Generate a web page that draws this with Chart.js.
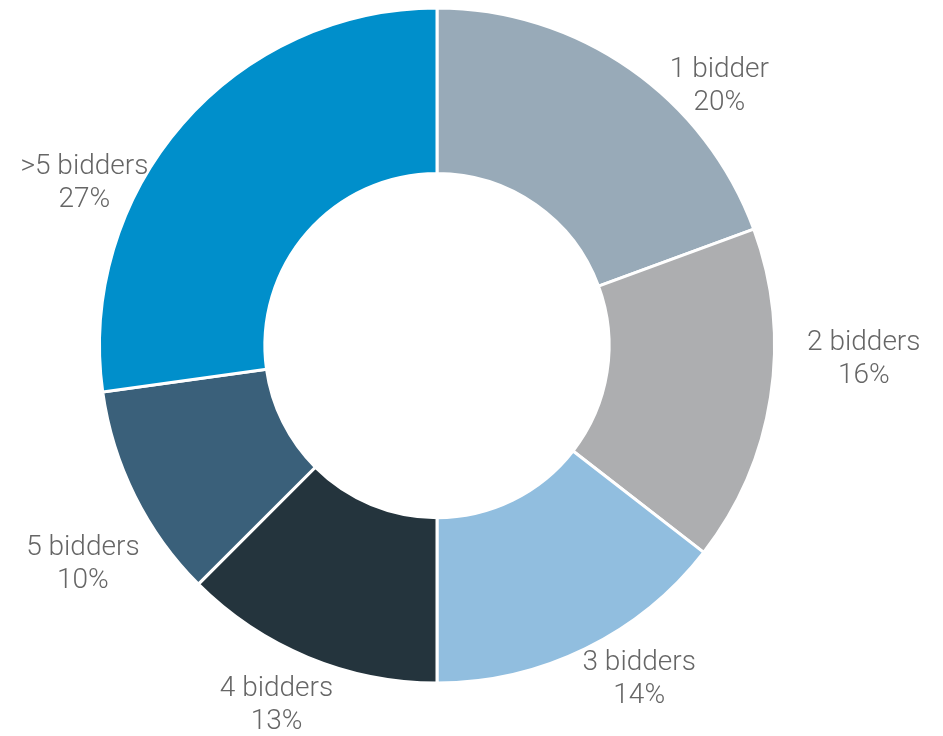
<!DOCTYPE html>
<html>
<head>
<meta charset="utf-8">
<script src="https://cdn.jsdelivr.net/npm/chart.js@4/dist/chart.umd.min.js"></script>
<style>
html,body{margin:0;padding:0;background:#fff;}
#wrap{width:943px;height:736px;position:relative;}
</style>
</head>
<body>
<div id="wrap"><canvas id="c" width="943" height="736"></canvas></div>
<script>
const categories = ['1 bidder', '2 bidders', '3 bidders', '4 bidders', '5 bidders', '>5 bidders'];
const shares = [19.4, 16.1, 14.5, 12.5, 10.3, 27.2];
const shareLabels = ['20%', '16%', '14%', '13%', '10%', '27%'];
const sliceColors = ['#98AAB8', '#ADAEB0', '#91BEDF', '#24343D', '#3A607A', '#008FCB'];

// label placement (layout only): polar angle offset from slice middle (deg) and distance as ratio of outer radius
const labelLayout = [
  {dAngle: 12.3, dist: 1.14},
  {dAngle: -7.3, dist: 1.265},
  {dAngle: -5.3, dist: 1.15},
  {dAngle: 1.7, dist: 1.16},
  {dAngle: -5.0, dist: 1.23},
  {dAngle: -16.0, dist: 1.153}
];

const outsideLabels = {
  id: 'outsideLabels',
  afterDatasetsDraw(chart) {
    const ctx = chart.ctx;
    const meta = chart.getDatasetMeta(0);
    ctx.save();
    ctx.font = '300 28px Roboto';
    ctx.fillStyle = '#666666';
    ctx.textAlign = 'center';
    ctx.textBaseline = 'middle';
    meta.data.forEach((arc, i) => {
      const p = arc.getProps(['x', 'y', 'startAngle', 'endAngle', 'outerRadius'], true);
      const mid = (p.startAngle + p.endAngle) / 2 + labelLayout[i].dAngle * Math.PI / 180;
      const r = p.outerRadius * labelLayout[i].dist;
      const cx = p.x + Math.cos(mid) * r;
      const cy = p.y + Math.sin(mid) * r;
      ctx.fillText(categories[i], cx, cy - 14);
      ctx.fillText(shareLabels[i], cx, cy + 19);
    });
    ctx.restore();
  }
};

new Chart(document.getElementById('c'), {
  type: 'doughnut',
  data: {
    labels: categories,
    datasets: [{
      data: shares,
      backgroundColor: sliceColors,
      borderColor: '#ffffff',
      borderWidth: 3
    }]
  },
  options: {
    responsive: false,
    animation: false,
    cutout: '51%',
    layout: { padding: { left: 98, right: 167, top: 6, bottom: 51 } },
    plugins: {
      legend: { display: false },
      tooltip: { enabled: false }
    }
  },
  plugins: [outsideLabels]
});
</script>
</body>
</html>
